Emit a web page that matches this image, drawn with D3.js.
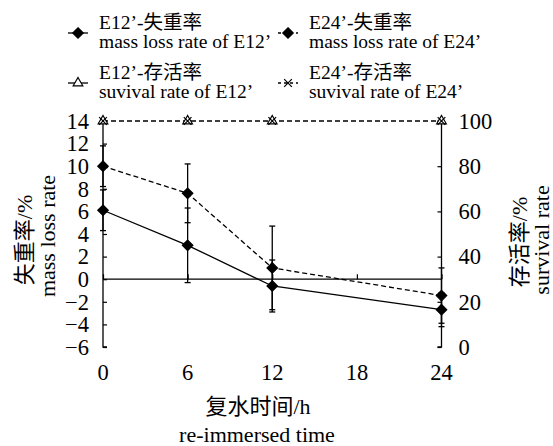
<!DOCTYPE html>
<html>
<head>
<meta charset="utf-8">
<script src="https://cdn.jsdelivr.net/npm/d3@7"></script>
<style>
  html, body { margin: 0; padding: 0; background: #fff; }
  svg { display: block; }
  text { font-family: "Liberation Serif", "Times New Roman", "Noto Sans CJK SC", serif; fill: #000; }
</style>
</head>
<body>
<svg id="chart" width="553" height="446"></svg>
<script>
const hours = [0, 6, 12, 24];
const xTicks = [0, 6, 12, 18, 24];
const lossE12 = [6.1, 3.0, -0.6, -2.7];
const lossE12Err = [1.8, 3.3, 2.3, 1.5];
const lossE24 = [10.0, 7.6, 1.0, -1.45];
const lossE24Err = [1.8, 2.6, 3.7, 2.45];
const survE12 = [100, 100, 100, 100];
const survE24 = [100, 100, 100, 100];
const leftTicks = [-6, -4, -2, 0, 2, 4, 6, 8, 10, 12, 14];
const rightTicks = [0, 20, 40, 60, 80, 100];

const FONT = '"Liberation Serif", "Times New Roman", "Noto Sans CJK SC", serif';
const svg = d3.select('#chart');
const x = d3.scaleLinear().domain([0, 24]).range([103, 441.5]);
const yl = d3.scaleLinear().domain([-6, 14]).range([347, 121]);
const yr = d3.scaleLinear().domain([0, 100]).range([347, 121]);

// axes
const gl = svg.append('g').attr('transform', `translate(${x(0)},0)`)
  .call(d3.axisLeft(yl).tickValues(leftTicks).tickSize(-4).tickPadding(14)
    .tickFormat(d => d < 0 ? '\u2212' + Math.abs(d) : d));
const gr = svg.append('g').attr('transform', `translate(${x(24)},0)`)
  .call(d3.axisRight(yr).tickValues(rightTicks).tickSize(-4).tickPadding(17));
const gx = svg.append('g').attr('transform', `translate(0,${yl(0)})`)
  .call(d3.axisBottom(x).tickValues(xTicks).tickSize(-5).tickFormat(''));
[gl, gr, gx].forEach(g => {
  g.attr('font-family', null).attr('font-size', null);
  g.selectAll('.domain').attr('stroke', '#000').attr('stroke-width', 1.3);
  g.selectAll('.tick line').attr('stroke', '#000').attr('stroke-width', 1.2);
  g.selectAll('.tick text').style('font-size', '22.5px').style('font-family', FONT);
});
gl.select('.domain').attr('d', `M4,${yl(14)}H0V${yl(-6)}H4`);
gr.select('.domain').attr('d', `M-4,${yr(100)}H0V${yr(0)}H-4`);
gx.select('.domain').attr('d', `M${x(0)},0H${x(24)}`);

svg.append('g').selectAll('text').data(xTicks).join('text')
  .attr('x', d => x(d)).attr('y', 380).attr('text-anchor', 'middle')
  .style('font-size', '22.5px').text(d => d);

// error bars
function errBars(vals, errs) {
  const g = svg.append('g').attr('stroke', '#000').attr('stroke-width', 1.3);
  vals.forEach((v, i) => {
    const cx = x(hours[i]), y1 = yl(v + errs[i]), y2 = yl(v - errs[i]);
    g.append('line').attr('x1', cx).attr('x2', cx).attr('y1', y1).attr('y2', y2);
    g.append('line').attr('x1', cx - 3).attr('x2', cx + 3).attr('y1', y1).attr('y2', y1);
    g.append('line').attr('x1', cx - 3).attr('x2', cx + 3).attr('y1', y2).attr('y2', y2);
  });
}
errBars(lossE12, lossE12Err);
errBars(lossE24, lossE24Err);

const line = (ys, vals) => d3.line().x((d, i) => x(hours[i])).y(d => ys(d))(vals);
const diamond = d3.symbol().type(d3.symbolDiamond2).size(70)();
const tri = d3.symbol().type(d3.symbolTriangle).size(40)();
const cross = d3.symbol().type(d3.symbolTimes).size(40)();

svg.append('path').attr('d', line(yl, lossE12)).attr('fill', 'none').attr('stroke', '#000').attr('stroke-width', 1.3);
svg.append('path').attr('d', line(yl, lossE24)).attr('fill', 'none').attr('stroke', '#000').attr('stroke-width', 1.3).attr('stroke-dasharray', '5,3');
svg.append('path').attr('d', line(yr, survE24)).attr('fill', 'none').attr('stroke', '#000').attr('stroke-width', 1.3).attr('stroke-dasharray', '5,3');

function marks(ys, vals, path, fill) {
  svg.append('g').selectAll('path').data(vals).join('path')
    .attr('transform', (d, i) => `translate(${x(hours[i])},${ys(d)})`)
    .attr('d', path).attr('fill', fill).attr('stroke', '#000').attr('stroke-width', 1.2);
}
marks(yl, lossE12, diamond, '#000');
marks(yl, lossE24, diamond, '#000');
marks(yr, survE12, tri, '#fff');
marks(yr, survE24, cross, 'none');

// legend
const legend = [
  { x: 68, y: 33, t1: 'E12’-失重率', t2: 'mass loss rate of E12’', sym: diamond, fill: '#000', dash: null },
  { x: 278, y: 33, t1: 'E24’-失重率', t2: 'mass loss rate of E24’', sym: diamond, fill: '#000', dash: '3,3' },
  { x: 68, y: 83, t1: 'E12’-存活率', t2: 'suvival rate of E12’', sym: tri, fill: '#fff', dash: null },
  { x: 278, y: 83, t1: 'E24’-存活率', t2: 'suvival rate of E24’', sym: cross, fill: 'none', dash: '3,3' }
];
const lg = svg.append('g').selectAll('g').data(legend).join('g');
lg.append('line').attr('x1', d => d.x).attr('x2', d => d.x + 20)
  .attr('y1', d => d.y).attr('y2', d => d.y)
  .attr('stroke', '#000').attr('stroke-width', 1.3).attr('stroke-dasharray', d => d.dash);
lg.append('path').attr('transform', d => `translate(${d.x + 10},${d.y})`)
  .attr('d', d => d.sym).attr('fill', d => d.fill).attr('stroke', '#000').attr('stroke-width', 1.2);
lg.append('text').attr('x', d => d.x + 31).attr('y', d => d.y - 4).style('font-size', '19.5px').text(d => d.t1);
lg.append('text').attr('x', d => d.x + 31).attr('y', d => d.y + 15).style('font-size', '19.5px').text(d => d.t2);

// axis titles
const title = (tx, ty, rot, txt) => svg.append('text')
  .attr('transform', `translate(${tx},${ty}) rotate(${rot})`)
  .attr('text-anchor', 'middle').style('font-size', '22px').text(txt);
title(32, 240, -90, '失重率/%');
title(55, 236, -90, 'mass loss rate');
title(527, 242, -90, '存活率/%');
title(549, 240, -90, 'survival rate');
title(258, 414, 0, '复水时间/h');
title(257, 442, 0, 're-immersed time');
</script>
</body>
</html>
